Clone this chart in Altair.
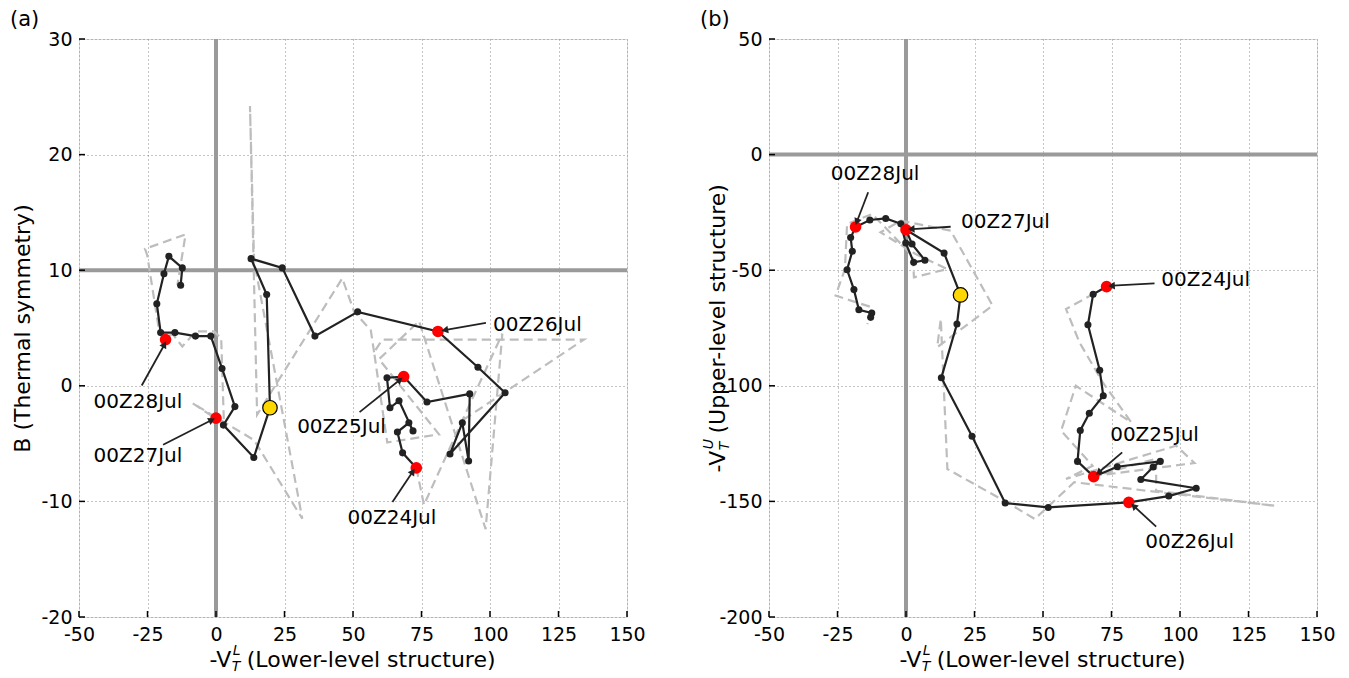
import math
import altair as alt
import pandas as pd

FONT = "DejaVu Sans"

# ---------------- Panel (a) data ----------------
A_BX = [73.1, 68.1, 66.2, 70.4, 71.9, 66.8, 63.5, 62.4, 68.5, 77.0, 92.6, 92.2, 89.9, 85.4, 105.5, 95.6,
        81.0, 51.7, 36.1, 24.2, 12.8, 18.5, 19.7, 13.8, 2.7, 6.9, 2.2, -1.9, -7.5, -15.0, -20.2, -21.6,
        -19.0, -17.2, -12.3, -12.9]
A_BY = [-7.1, -5.8, -4.0, -3.2, -3.9, -1.3, -1.9, 0.7, 0.8, -1.4, -0.7, -6.5, -3.2, -5.9, -0.6, 1.6,
        4.7, 6.4, 4.3, 10.2, 11.0, 7.9, -1.9, -6.2, -3.4, -1.8, 1.5, 4.3, 4.3, 4.6, 4.6, 7.1,
        9.7, 11.2, 10.2, 8.7]

A_DX = [73.1, 75.9, 89.9, 104.5, 98.4, 74.1, 59.5, 81.4, 62.5, 57.7, 60.7, 134.3, 89.9]
A_DY = [-7.1, -10.3, -3.0, 4.5, -12.4, 5.6, 2.3, -4.2, -4.9, 2.9, 4.0, 4.0, -3.0]
A_DX2 = [57.7, 56.5, 50.4, 46.1, 15.0, 12.4, 13.9, 31.5, 13.9, -8.6, 2.9, 1.9, -0.7, -7.4, -12.3,
         -15.9, -18.4, -20.8, -25.1, -25.9, -11.1, -14.1]
A_DY2 = [2.9, 4.8, 6.4, 9.3, -2.5, 24.2, 10.8, -11.5, -4.7, -1.5, -3.3, 4.1, 4.7, 4.7, 3.4,
         4.5, 4.1, 4.8, 11.3, 11.85, 13.1, 8.7]

A_LABELS = ["00Z24Jul", "00Z25Jul", "00Z26Jul", "00Z27Jul", "00Z28Jul"]
A_RX = [73.1, 68.5, 81.0, 0.0, -18.4]
A_RY = [-7.1, 0.8, 4.7, -2.8, 4.0]
A_TX = [64.2, 45.8, 101.1, -28.5, -28.5]
A_TY = [-11.4, -3.55, 5.3, -6.1, -1.4]
A_TALIGN = ["center", "center", "left", "center", "center"]
A_AX1 = [64.4, 52.4, 98.5, -19.3, -27.1]
A_AY1 = [-10.06, -2.28, 5.45, -5.1, 0.03]
A_AX2 = [71.6, 66.8, 83.9, -1.9, -19.0]
A_AY2 = [-7.5, 0.46, 4.84, -3.0, 3.49]
A_YEL = (19.7, -1.9)

# ---------------- Panel (b) data ----------------
B_BX = [73.2, 68.3, 66.4, 70.7, 72.0, 66.9, 63.6, 62.6, 68.5, 77.1, 92.8, 90.2, 85.7, 105.9, 95.9,
        81.3, 51.9, 36.2, 24.1, 12.9, 18.6, 19.9, 13.9, 0.0, 2.2, 6.9, 2.8, -0.1, -1.9, -7.4, -13.2,
        -18.4, -20.2, -19.6, -21.5, -19.0, -17.2, -12.5, -12.9]
B_BY = [-57.1, -60.4, -73.6, -93.3, -104.3, -111.9, -119.3, -132.7, -139.3, -135.0, -132.7, -135.1,
        -140.5, -144.3, -147.7, -150.4, -152.6, -150.7, -121.8, -96.5, -73.3, -60.7, -42.6, -32.5,
        -38.7, -45.7, -46.6, -38.2, -29.9, -27.6, -28.3, -31.3, -35.9, -41.8, -49.8, -58.4, -67.1,
        -68.5, -70.4]

B_DX = [73.2, 58.4, 63.3, 71.8, 82.2, 62.0, 56.6, 68.1, 58.4, 98.6, 105.3, 69.4, 91.3, 91.3, 134.6,
        61.4, 47.0, 35.8, 15.1, 12.7, 11.4, 31.6, 16.3, -1.9, -9.3, 3.5, 15.1, 2.9, 2.5, -12.3, -21.5,
        -22.3, -25.7, -12.3, -14.1]
B_DY = [-57.1, -66.8, -81.2, -98.5, -115.8, -100.0, -119.4, -134.6, -140.3, -125.9, -133.4, -138.9,
        -131.5, -145.4, -151.9, -141.7, -157.6, -149.7, -136.0, -71.1, -83.3, -65.3, -32.9, -28.6,
        -33.6, -43.0, -49.5, -53.1, -44.0, -25.7, -30.0, -49.6, -61.0, -66.1, -73.3]

B_LABELS = ["00Z24Jul", "00Z25Jul", "00Z26Jul", "00Z27Jul", "00Z28Jul"]
B_RX = [73.2, 68.5, 81.3, 0.0, -18.4]
B_RY = [-57.1, -139.3, -150.4, -32.5, -31.3]
B_TX = [93.2, 90.7, 103.5, 20.1, -11.3]
B_TY = [-54.2, -121.3, -167.6, -29.2, -8.4]
B_TALIGN = ["left", "center", "center", "left", "center"]
B_AX1 = [90.7, 78.9, 91.3, 16.3, -13.8]
B_AY1 = [-55.7, -128.8, -160.9, -31.2, -16.3]
B_AX2 = [75.4, 70.6, 83.4, 2.3, -17.8]
B_AY2 = [-56.7, -137.2, -152.3, -32.2, -28.6]
B_YEL = (19.9, -60.7)

X_TICKS = [-50, -25, 0, 25, 50, 75, 100, 125, 150]
A_YTICKS = [-20, -10, 0, 10, 20, 30]
B_YTICKS = [-200, -150, -100, -50, 0, 50]

W, H = 548, 578
LBL = 19      # tick label size
ANN = 20      # annotation size
TTL = 22      # axis title size

# DejaVu Sans advance widths (em)
CW = {'-': .361, 'V': .684, 'T': .611, 'L': .557, 'U': .732, ' ': .318, '(': .390, ')': .390,
      'o': .612, 'w': .818, 'e': .615, 'r': .411, 'l': .278, 'v': .592, 's': .521, 't': .392,
      'u': .634, 'c': .550, 'p': .635}


def tw(s, size):
    return sum(CW.get(c, .6) for c in s) * size


def composed_title(sup, rest, cx, cy, vertical=False, size=TTL, small=14):
    head = "-V"
    gap = 0.318 * size
    w1 = tw(head, size)
    ws = max(tw("T", small), tw(sup, small))
    w2 = tw(rest, size)
    total = w1 + ws + gap + w2
    layers = []
    if not vertical:
        x0 = cx - total / 2 + w1
        pieces = [
            (head, x0, cy, size, "right", "normal"),
            ("T", x0 + 0.5, cy + 7, small, "left", "italic"),
            (sup, x0 + 1.5, cy - 9, small, "left", "italic"),
            (rest, x0 + ws + gap, cy, size, "left", "normal"),
        ]
        ang = 0
    else:
        y0 = cy + total / 2 - w1
        pieces = [
            (head, cx, y0, size, "right", "normal"),
            ("T", cx + 7, y0 - 0.5, small, "left", "italic"),
            (sup, cx - 9, y0 - 1.5, small, "left", "italic"),
            (rest, cx, y0 - ws - gap, size, "left", "normal"),
        ]
        ang = 270
    for t, px, py, fs, al, st in pieces:
        layers.append(alt.Chart(pd.DataFrame({"t": [t]})).mark_text(
            font=FONT, fontSize=fs, align=al, baseline="middle", color="black",
            fontStyle=st, angle=ang).encode(x=alt.value(px), y=alt.value(py), text="t:N"))
    return layers


def panel(tag, bx, by, dashes, rx, ry, labels, tx, ty, talign, ax1, ay1, ax2, ay2, yel,
          ydom, yticks, hline, ytitle_layers, ytitle_text):
    xs = alt.Scale(domain=[-50, 150], nice=False, zero=False)
    ys = alt.Scale(domain=ydom, nice=False, zero=False)
    xaxis = alt.Axis(values=X_TICKS, grid=True, gridDash=[1, 3], gridColor="#888", gridWidth=1,
                     title="", labelFont=FONT, labelFontSize=LBL, labelColor="black",
                     labelExpr="'' + datum.value",
                     domain=False, ticks=False, labelPadding=8, labelFlush=False)
    yaxis = alt.Axis(values=yticks, grid=True, gridDash=[1, 3], gridColor="#888", gridWidth=1,
                     title=ytitle_text, titleFont=FONT, titleFontSize=TTL, titleFontWeight="normal",
                     titleColor="black", titlePadding=6,
                     labelFont=FONT, labelFontSize=LBL, labelColor="black",
                     labelExpr="'' + datum.value",
                     domain=False, ticks=False, labelPadding=7, labelFlush=False)

    base_df = pd.DataFrame({"x": bx, "y": by, "i": list(range(len(bx)))})
    X = alt.X("x:Q", scale=xs, axis=xaxis)
    Y = alt.Y("y:Q", scale=ys, axis=yaxis)

    frame = alt.Chart(base_df).mark_point(opacity=0).encode(x=X, y=Y)

    # inward tick marks on the bottom and left edges
    xt = alt.Chart(pd.DataFrame({"x": X_TICKS})).mark_rule(color="black", strokeWidth=1.5).encode(
        x=alt.X("x:Q", scale=xs), y=alt.value(H), y2=alt.value(H - 6))
    yt = alt.Chart(pd.DataFrame({"y": yticks})).mark_rule(color="black", strokeWidth=1.5).encode(
        y=alt.Y("y:Q", scale=ys), x=alt.value(0), x2=alt.value(6))

    vline = alt.Chart(pd.DataFrame({"x": [0]})).mark_rule(color="#9a9a9a", strokeWidth=4).encode(
        x=alt.X("x:Q", scale=xs))
    hl = alt.Chart(pd.DataFrame({"y": [hline]})).mark_rule(color="#9a9a9a", strokeWidth=4).encode(
        y=alt.Y("y:Q", scale=ys))

    drows = []
    for g, (dx, dy) in enumerate(dashes):
        for i, (a, b) in enumerate(zip(dx, dy)):
            drows.append({"x": a, "y": b, "g": g, "i": i})
    dash = alt.Chart(pd.DataFrame(drows)).mark_line(
        color="#bdbdbd", strokeWidth=2.2, strokeDash=[9, 5]).encode(
        x=alt.X("x:Q", scale=xs), y=alt.Y("y:Q", scale=ys), detail="g:N", order="i:Q")

    line = alt.Chart(base_df).mark_line(color="#222222", strokeWidth=2.2).encode(
        x=alt.X("x:Q", scale=xs), y=alt.Y("y:Q", scale=ys), order="i:Q")
    dots = alt.Chart(base_df).mark_circle(color="#222222", size=50, opacity=1).encode(
        x=alt.X("x:Q", scale=xs), y=alt.Y("y:Q", scale=ys))

    red = alt.Chart(pd.DataFrame({"x": rx, "y": ry})).mark_circle(
        color="#ff0000", size=135, opacity=1).encode(
        x=alt.X("x:Q", scale=xs), y=alt.Y("y:Q", scale=ys))
    yell = alt.Chart(pd.DataFrame({"x": [yel[0]], "y": [yel[1]]})).mark_circle(
        fill="#ffd700", stroke="black", strokeWidth=1.2, size=210, opacity=1).encode(
        x=alt.X("x:Q", scale=xs), y=alt.Y("y:Q", scale=ys))

    kx = W / 200.0
    ky = H / float(ydom[1] - ydom[0])
    angs = []
    for a1, b1, a2, b2 in zip(ax1, ay1, ax2, ay2):
        dxp = (a2 - a1) * kx
        dyp = -(b2 - b1) * ky
        angs.append(math.degrees(math.atan2(dxp, -dyp)) % 360)
    adf = pd.DataFrame({"x1": ax1, "y1": ay1, "x2": ax2, "y2": ay2, "ang": angs})
    arrows = alt.Chart(adf).mark_rule(color="#222222", strokeWidth=1.8).encode(
        x=alt.X("x1:Q", scale=xs), y=alt.Y("y1:Q", scale=ys), x2="x2:Q", y2="y2:Q")
    heads = alt.Chart(adf).mark_point(shape="triangle", filled=True, size=60, color="#222222",
                                      opacity=1).encode(
        x=alt.X("x2:Q", scale=xs), y=alt.Y("y2:Q", scale=ys),
        angle=alt.Angle("ang:Q", scale=None))

    tdf = pd.DataFrame({"x": tx, "y": ty, "t": labels, "al": talign})
    texts = []
    for al in ["left", "center", "right"]:
        sub = tdf[tdf.al == al]
        if len(sub):
            texts.append(alt.Chart(sub).mark_text(font=FONT, fontSize=ANN, align=al,
                                                  baseline="middle", color="black").encode(
                x=alt.X("x:Q", scale=xs), y=alt.Y("y:Q", scale=ys), text="t:N"))

    tagc = alt.Chart(pd.DataFrame({"t": [tag]})).mark_text(
        font=FONT, fontSize=21, align="left", baseline="middle", color="black").encode(
        x=alt.value(-69), y=alt.value(-19), text="t:N")

    xtitle = composed_title("L", "(Lower-level structure)", W / 2, H + 43)

    layers = [frame, vline, hl, dash, line, dots, red, yell, arrows, heads, xt, yt] + texts \
        + [tagc] + xtitle + ytitle_layers
    return alt.layer(*layers).properties(width=W, height=H)


pa = panel("(a)", A_BX, A_BY, [(A_DX, A_DY), (A_DX2, A_DY2)], A_RX, A_RY, A_LABELS, A_TX, A_TY,
           A_TALIGN, A_AX1, A_AY1, A_AX2, A_AY2, A_YEL, [-20, 30], A_YTICKS, 10, [],
           "B (Thermal symmetry)")
pb = panel("(b)", B_BX, B_BY, [(B_DX, B_DY)], B_RX, B_RY, B_LABELS, B_TX, B_TY,
           B_TALIGN, B_AX1, B_AY1, B_AX2, B_AY2, B_YEL, [-200, 50], B_YTICKS, 0,
           composed_title("U", "(Upper-level structure)", -51, H / 2, vertical=True), "")

chart = alt.hconcat(pa, pb, spacing=142, bounds="flush").properties(
    padding={"left": 1, "top": 0, "right": 5, "bottom": 2}
).configure_view(stroke="black", strokeWidth=1.6).configure(background="white")

chart.save("out.html", embed_options={"renderer": "svg", "actions": False})
